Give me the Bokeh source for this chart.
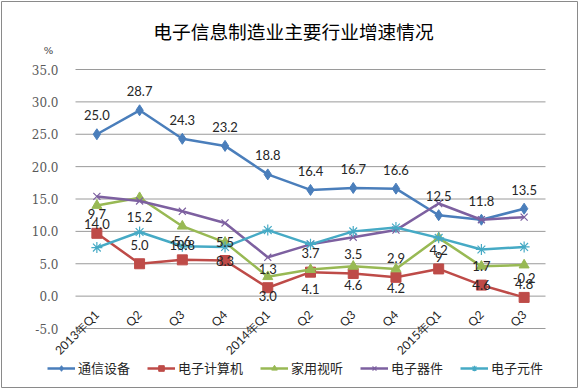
from math import pi
from bokeh.plotting import figure
from bokeh.models import ColumnDataSource, Range1d, Legend, LegendItem, Label
from bokeh.embed import file_html
from bokeh.resources import INLINE
from bokeh.core.properties import value

chart_title = "电子信息制造业主要行业增速情况"
unit_text = "%"
quarters = ["2013年Q1", "Q2", "Q3", "Q4", "2014年Q1", "Q2", "Q3", "Q4", "2015年Q1", "Q2", "Q3"]
series_names = ["通信设备", "电子计算机", "家用视听", "电子器件", "电子元件"]
tongxin = [25.0, 28.7, 24.3, 23.2, 18.8, 16.4, 16.7, 16.6, 12.5, 11.8, 13.5]
jisuanji = [9.7, 5.0, 5.6, 5.5, 1.3, 3.7, 3.5, 2.9, 4.2, 1.7, -0.2]
shiting = [14.0, 15.2, 10.8, 8.3, 3.0, 4.1, 4.6, 4.2, 9.0, 4.6, 4.8]
qijian = [15.4, 14.7, 13.1, 11.3, 6.0, 8.0, 9.1, 10.2, 14.3, 11.8, 12.2]
yuanjian = [7.5, 9.9, 7.7, 7.6, 10.2, 8.0, 10.0, 10.6, 9.0, 7.2, 7.6]
tongxin_labels = ["25.0", "28.7", "24.3", "23.2", "18.8", "16.4", "16.7", "16.6", "12.5", "11.8", "13.5"]
jisuanji_labels = ["9.7", "5.0", "5.6", "5.5", "1.3", "3.7", "3.5", "2.9", "4.2", "1.7", "-0.2"]
shiting_labels = ["14.0", "15.2", "10.8", "8.3", "3.0", "4.1", "4.6", "4.2", "9", "4.6", "4.8"]
y_ticks = [-5, 0, 5, 10, 15, 20, 25, 30, 35]
y_tick_labels = ["-5.0", "0.0", "5.0", "10.0", "15.0", "20.0", "25.0", "30.0", "35.0"]

colors = ["#4A7EBB", "#BE4B48", "#98B954", "#7D60A0", "#46AAC5"]

# ---- layout (canvas pixels, origin top-left) ----
W, H = 578, 388
B = 1                                                 # frame inset (outer border)
AREA_L, AREA_R, AREA_T, AREA_B = 75, 545, 69, 328     # plot area box
n = len(quarters)
x_lo, x_hi = -0.5, n - 0.5
y_lo, y_hi = y_ticks[0], y_ticks[-1]
sx = (AREA_R - AREA_L) / (x_hi - x_lo)
sy = (AREA_B - AREA_T) / (y_hi - y_lo)
x_start = x_lo - (AREA_L - B) / sx
x_end = x_hi + (W - B - AREA_R) / sx
y_end = y_hi + (AREA_T - B) / sy
y_start = y_lo - (H - B - AREA_B) / sy


def px_x(px):
    return x_start + (px - B) / sx


def px_y(py):
    return y_end - (py - B) / sy


idx = list(range(n))
src = ColumnDataSource(dict(
    x=idx, q=quarters, ybase=[y_lo] * n,
    s0=tongxin, s1=jisuanji, s2=shiting, s3=qijian, s4=yuanjian,
    l0=tongxin_labels, l1=jisuanji_labels, l2=shiting_labels,
))
grid_src = ColumnDataSource(dict(
    y=y_ticks, t=y_tick_labels, x0=[x_lo] * len(y_ticks), x1=[x_hi] * len(y_ticks)))

p = figure(width=W, height=H, output_backend="svg", toolbar_location=None,
           x_range=Range1d(x_start, x_end), y_range=Range1d(y_start, y_end),
           min_border=B)
p.axis.visible = False
p.grid.visible = False
p.outline_line_color = "#8a8a8a"
p.outline_line_width = 1
p.background_fill_color = "white"
p.border_fill_color = "white"

# value axis: grid lines and tick labels
p.segment(x0="x0", x1="x1", y0="y", y1="y", source=grid_src,
          line_color="#9a9a9a", line_width=1)
p.text(x="x0", y="y", text="t", source=grid_src, text_font=value("DejaVu Serif"),
       text_font_size="12px", text_color="#595959", text_align="right",
       text_baseline="middle", x_offset=-17)

markers = ["diamond", "square", "triangle", "x", "asterisk"]
sizes = [11, 10, 10, 10, 11]
items = []
for i, name in enumerate(series_names):
    col = "s%d" % i
    lr = p.line("x", col, source=src, line_color=colors[i], line_width=2.5)
    if markers[i] in ("x", "asterisk"):
        sr = p.scatter("x", col, source=src, marker=markers[i], size=sizes[i],
                       line_color=colors[i], line_width=1.2, fill_color=None)
    else:
        sr = p.scatter("x", col, source=src, marker=markers[i], size=sizes[i],
                       line_color=colors[i], fill_color=colors[i], line_width=1)
    items.append(LegendItem(label=name, renderers=[lr, sr]))

lab_font = value("Lato")
p.text("x", "s0", text="l0", source=src, text_font=lab_font, text_font_size="13px",
       text_color="#262626", text_align="center", text_baseline="middle", y_offset=-19)
p.text("x", "s1", text="l1", source=src, text_font=lab_font, text_font_size="13px",
       text_color="#262626", text_align="center", text_baseline="middle", y_offset=-19)
p.text("x", "s2", text="l2", source=src, text_font=lab_font, text_font_size="13px",
       text_color="#262626", text_align="center", text_baseline="middle", y_offset=19)

# category axis labels (rotated)
p.text("x", "ybase", text="q", source=src, angle=pi / 4, text_font=lab_font,
       text_font_size="12px", text_color="#262626", text_align="right",
       text_baseline="middle", x_offset=0, y_offset=-16)

p.add_layout(Label(x=px_x(293), y=px_y(30), text=chart_title,
                   text_font="Noto Sans CJK SC", text_font_size="18.7px",
                   text_color="#000000", text_align="center", text_baseline="middle"))
p.add_layout(Label(x=px_x(48), y=px_y(50), text=unit_text,
                   text_font="DejaVu Serif", text_font_size="10px",
                   text_color="#404040", text_align="center", text_baseline="middle"))

legend = Legend(items=items, orientation="horizontal", location=(46, 10),
                glyph_width=28, glyph_height=14, label_standoff=3, spacing=17,
                padding=0, margin=0, border_line_color=None, background_fill_alpha=0,
                label_text_font="Noto Sans CJK SC", label_text_font_size="13px",
                label_text_color="#262626")
p.add_layout(legend, "center")

open("out.html", "w").write(file_html(p, INLINE))
